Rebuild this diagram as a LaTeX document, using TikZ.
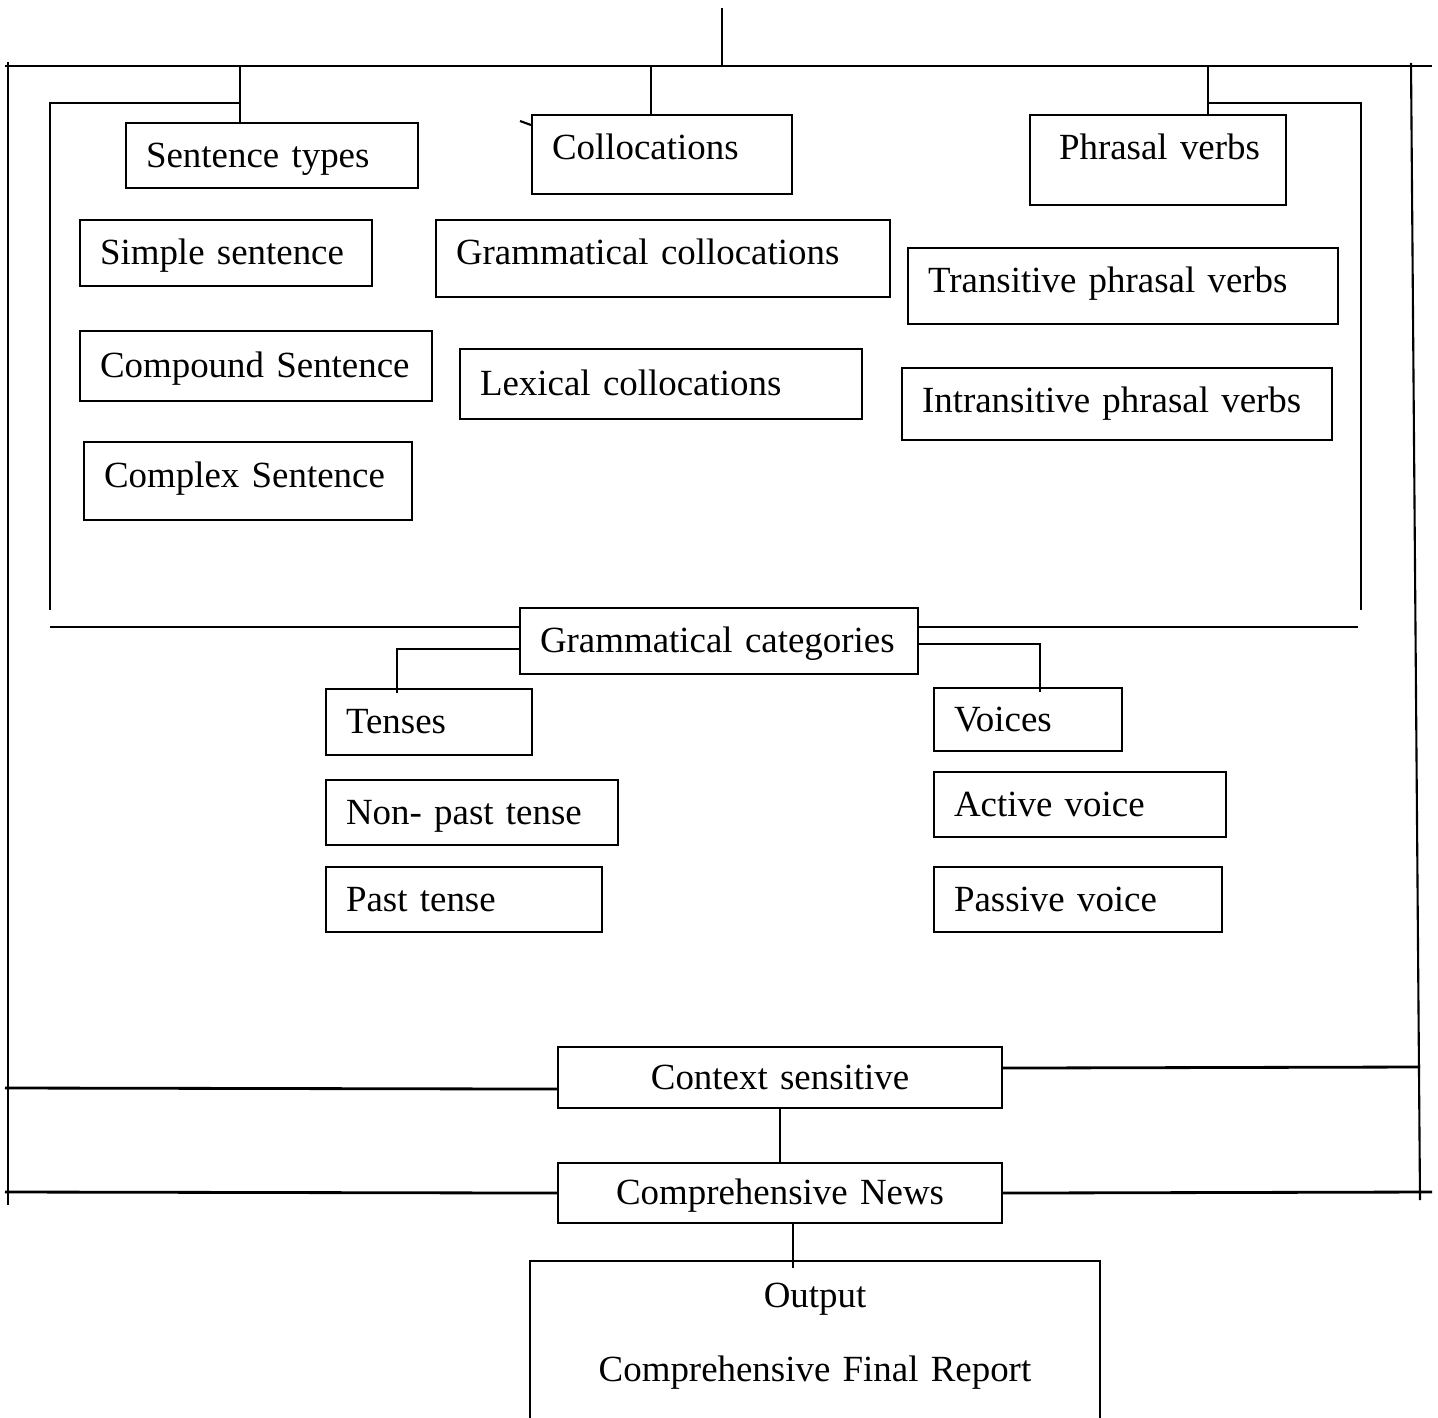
\documentclass[tikz,border=0pt]{standalone}
\usepackage{fontspec}
\setmainfont{Liberation Serif}
\hyphenpenalty=10000

\begin{document}
\begin{tikzpicture}[line width=0.6pt,
        every node/.style={font=\fontsize{10.5}{12.6}\selectfont},
        cat/.style={draw, anchor=north west, align=left, inner xsep=0.2cm, inner ysep=0pt,
            text height=0.32cm, text depth=0.09cm},
        mid/.style={draw, anchor=north west, align=center, inner xsep=0pt, inner ysep=0pt,
            text height=0.32cm, text depth=0.09cm},
        frame/.style={line width=0.8pt}]
        \useasboundingbox (0,0) rectangle (14.38,-14.18);
        \clip (0,0) rectangle (14.38,-14.18);

        % upper block
        \node[cat, text width=2.52cm, minimum height=0.65cm] (stypes) at (1.25,-1.22) {Sentence~types};
        \node[cat, text width=2.20cm, minimum height=0.79cm, text depth=0.22cm] (coll) at (5.31,-1.14) {Collocations};
        \node[cat, text width=1.98cm, minimum height=0.90cm, inner xsep=0.29cm, text depth=0.33cm] (phr) at (10.29,-1.14) {Phrasal~verbs};
        \node[cat, text width=2.52cm, minimum height=0.66cm] (simple) at (0.79,-2.19) {Simple~sentence};
        \node[cat, text width=3.12cm, minimum height=0.70cm] (compound) at (0.79,-3.30) {Compound~Sentence};
        \node[cat, text width=2.88cm, minimum height=0.78cm, text depth=0.2cm] (complex) at (0.83,-4.41) {Complex~Sentence};
        \node[cat, text width=4.14cm, minimum height=0.77cm, text depth=0.2cm] (gcoll) at (4.35,-2.19) {Grammatical~collocations};
        \node[cat, text width=3.62cm, minimum height=0.70cm] (lex) at (4.59,-3.48) {Lexical~collocations};
        \node[cat, text width=3.90cm, minimum height=0.76cm, text depth=0.19cm] (trans) at (9.07,-2.47) {Transitive~phrasal~verbs};
        \node[cat, text width=3.90cm, minimum height=0.72cm, text depth=0.15cm] (intrans) at (9.01,-3.67) {Intransitive~phrasal~verbs};

        % grammatical categories
        \node[cat, text width=3.58cm, minimum height=0.66cm] (gcat) at (5.19,-6.07) {Grammatical~categories};
        \node[cat, text width=1.66cm, minimum height=0.66cm] (tenses) at (3.25,-6.88) {Tenses};
        \node[cat, text width=2.52cm, minimum height=0.65cm] (nonpast) at (3.25,-7.79) {Non-~past~tense};
        \node[cat, text width=2.36cm, minimum height=0.65cm] (past) at (3.25,-8.66) {Past~tense};
        \node[cat, text width=1.48cm, minimum height=0.63cm] (voices) at (9.33,-6.87) {Voices};
        \node[cat, text width=2.52cm, minimum height=0.65cm] (active) at (9.33,-7.71) {Active~voice};
        \node[cat, text width=2.48cm, minimum height=0.65cm] (passive) at (9.33,-8.66) {Passive~voice};

        % lower block
        \node[mid, text width=4.44cm, minimum height=0.61cm] (ctx) at (5.57,-10.46) {Context sensitive};
        \node[mid, text width=4.44cm, minimum height=0.60cm] (news) at (5.57,-11.62) {Comprehensive News};
        \node[draw, anchor=north, align=center, text width=5.30cm, inner xsep=0.2cm, inner ysep=0.22cm,
            text depth=1.5cm] (out) at (8.15,-12.60) {Output\\[0.3cm]Comprehensive Final Report};

        % frame and connectors
        \coordinate (top) at (7.22,-0.08);
        \coordinate (oTL) at (0.05,-0.66);
        \coordinate (oTR) at (14.32,-0.66);
        \coordinate (rail) at (2.40,-0.65);
        \coordinate (railR) at (12.08,-0.65);
        \coordinate (iL) at (0.50,-1.03);
        \coordinate (iR) at (13.61,-1.03);
        \coordinate (midL) at (0.50,-6.27);
        \coordinate (midR) at (13.58,-6.27);
        \coordinate (cx) at ([xshift=-0.11cm]coll.north);

        \draw (top) -- (top |- rail);
        \draw[frame] (oTL) -- (oTR);
        \draw (0.08,-0.62) -- (0.08,-12.05);
        \draw (14.11,-0.63) -- (14.20,-12.00);
        \draw (rail) -- (rail |- stypes.north);
        \draw (cx) -- (cx |- rail);
        \draw (railR) -- (railR |- phr.north);
        \draw (coll.north west) ++(0,-0.11) -- ++(-0.11,0.04);
        \draw (0.50,-6.10) -- (iL) -- (iL -| rail);
        \draw (13.61,-6.10) -- (iR) -- (iR -| railR);

        \draw[frame] (midL) -- (midL -| gcat.west);
        \draw[frame] (gcat.east |- midR) -- (midR);
        \draw ([yshift=-0.08cm]gcat.west) -| ([xshift=0.72cm,yshift=-0.05cm]tenses.north west);
        \draw ([yshift=-0.03cm]gcat.east) -| ([xshift=1.07cm,yshift=-0.05cm]voices.north west);

        \draw[frame] (ctx.west) ++(0,-0.115) -- (0.05,-10.88);
        \draw[frame] (ctx.east) ++(0,0.095) -- (14.20,-10.67);
        \draw (ctx) -- (news);
        \draw[frame] (news.west) -- (0.05,-11.92);
        \draw[frame] (news.east) -- (14.32,-11.92);
        \coordinate (nx) at ([xshift=0.13cm]news.south);
        \draw (nx) -- ([yshift=-0.08cm]nx |- out.north);
    \end{tikzpicture}
\end{document}
